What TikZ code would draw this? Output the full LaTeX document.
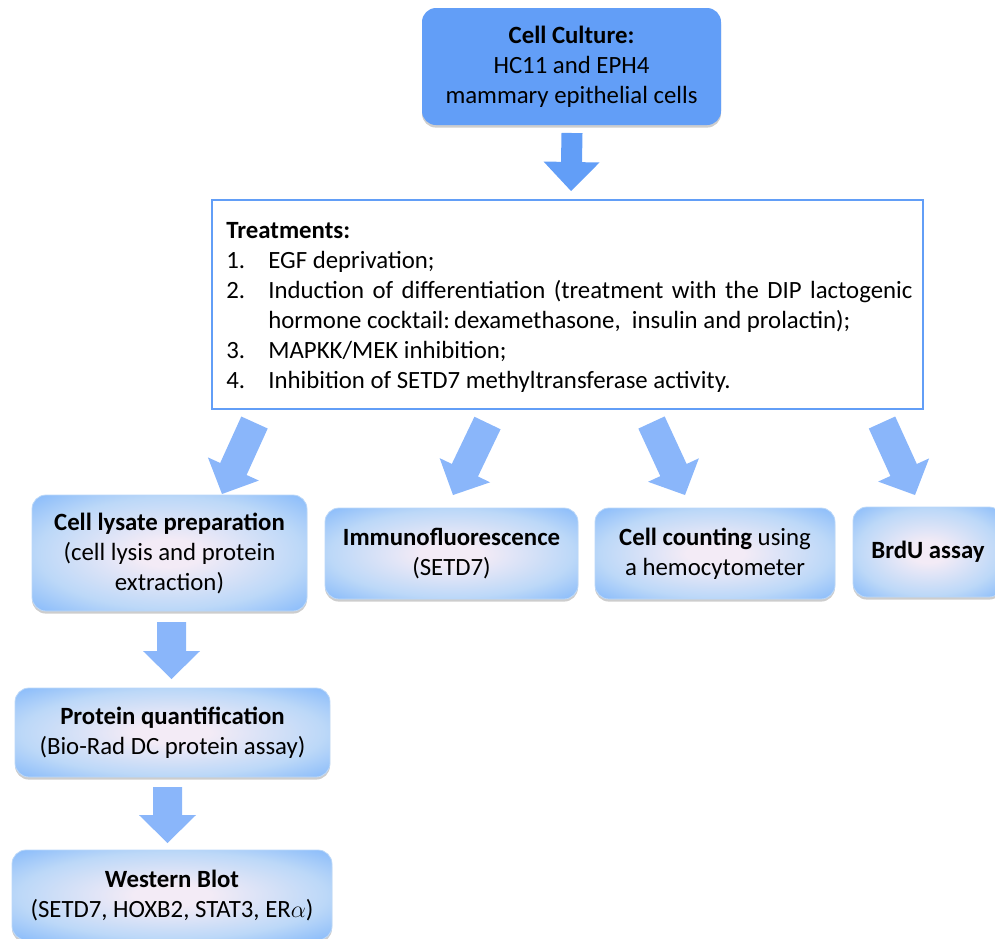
\documentclass[tikz,border=0pt]{standalone}
\usepackage{fontspec}
\setmainfont{Carlito}
\usetikzlibrary{calc,shadows}
\definecolor{cbox}{RGB}{98,158,247}
\definecolor{carrow}{RGB}{138,182,250}
\definecolor{cpale}{RGB}{243,235,246}
\definecolor{cmid}{RGB}{188,216,248}
\definecolor{cedge}{RGB}{142,190,250}
\pgfdeclareradialshading{boxshade}{\pgfpoint{0bp}{0bp}}{color(0bp)=(cpale); color(6bp)=(cpale); color(24bp)=(cmid); color(34bp)=(cedge); color(50bp)=(cedge)}
\newcommand\blockarrow[6]{%
  \coordinate (ba-h) at ($(#2)!#5!(#1)$);
  \fill[#6] ($(#1)!#3!90:(#2)$) -- ($(ba-h)!#3!90:(#2)$) -- ($(ba-h)!#4!90:(#2)$) -- (#2)
    -- ($(ba-h)!#4!-90:(#2)$) -- ($(ba-h)!#3!-90:(#2)$) -- ($(#1)!#3!-90:(#2)$) -- cycle;}
\tikzset{
  gbox/.style={rounded corners=7pt, shading=boxshade, draw=cmid, line width=0.4pt,
    align=center, inner sep=0pt, font=\fontsize{12.4}{15}\selectfont,
    drop shadow={shadow xshift=0pt, shadow yshift=-1.3pt, opacity=0.28, fill=black!70}},
  topbox/.style={rounded corners=7pt, fill=cbox, align=center, inner sep=0pt,
    font=\fontsize{12.4}{15}\selectfont,
    drop shadow={shadow xshift=0pt, shadow yshift=-1.3pt, opacity=0.28, fill=black!70}},
  treatbox/.style={draw=cbox, line width=1pt, fill=white, inner sep=0pt},
}
\begin{document}
\begin{tikzpicture}[x=0.5pt,y=-0.5pt]
\useasboundingbox (0,0) rectangle (995,938);
\clip (0,0) rectangle (995,938);

% boxes
\node[topbox, minimum width=149.5pt, minimum height=58.5pt] (culture) at (571.5,66.5)
  {\textbf{Cell Culture:}\\HC11 and EPH4\\mammary epithelial cells};

\node[treatbox, minimum width=355.5pt, minimum height=104.5pt] (treat) at (567.5,304.5) {};
\node[anchor=base west, inner sep=0pt, font=\fontsize{12.4}{15}\selectfont] (treattext) at (226,238)
  {\begin{tabular}[t]{@{}p{21pt}@{}p{322pt}@{}}
   \multicolumn{2}{@{}l}{\textbf{Treatments:}}\\
   1.& EGF deprivation;\\
   2.& \makebox[322pt][s]{Induction of differentiation (treatment with the DIP lactogenic}\\
     & hormone cocktail:\,dexamethasone,\ \ insulin and prolactin);\\
   3.& MAPKK/MEK inhibition;\\
   4.& Inhibition of SETD7 methyltransferase activity.
   \end{tabular}};

\node[gbox, minimum width=137.5pt, minimum height=58pt] (lysate) at (169.5,553)
  {\textbf{Cell lysate preparation}\\(cell lysis and protein\\extraction)};
\node[gbox, minimum width=126.5pt, minimum height=45.5pt] (immuno) at (451.5,553.5)
  {\textbf{Immunofluorescence}\\(SETD7)};
\node[gbox, minimum width=120pt, minimum height=45.5pt] (count) at (715,553.5)
  {\textbf{Cell counting} using\\a hemocytometer};
\node[gbox, minimum width=75pt, minimum height=45pt] (brdu) at (928,552)
  {\textbf{BrdU assay}};
\node[gbox, minimum width=157.5pt, minimum height=44.5pt] (protq) at (172.5,732.5)
  {\textbf{Protein quantification}\\(Bio-Rad DC protein assay)};
\node[gbox, minimum width=160pt, minimum height=45pt] (western) at (172,895)
  {\textbf{Western Blot}\\(SETD7, HOXB2, STAT3, ER$\alpha$)};

% arrow end points
\coordinate (a0s) at (572,133);   \coordinate (a0t) at (571,191);
\coordinate (a1s) at (254.5,422.5); \coordinate (a1t) at (222,494);
\coordinate (a2s) at (487.5,423); \coordinate (a2t) at (453,495);
\coordinate (a3s) at (651.5,422.5); \coordinate (a3t) at (685,495);
\coordinate (a4s) at (882,422.5); \coordinate (a4t) at (915,495);
\coordinate (a5s) at (171.5,622); \coordinate (a5t) at (171.5,679);
\coordinate (a6s) at (167.5,787); \coordinate (a6t) at (167.5,843);

\blockarrow{a0s}{a0t}{5.25pt}{14pt}{14.5pt}{cbox}
\blockarrow{a1s}{a1t}{7.25pt}{14pt}{13.75pt}{carrow}
\blockarrow{a2s}{a2t}{7.25pt}{14pt}{13.75pt}{carrow}
\blockarrow{a3s}{a3t}{7.25pt}{14pt}{13.75pt}{carrow}
\blockarrow{a4s}{a4t}{7.25pt}{14pt}{13.75pt}{carrow}
\blockarrow{a5s}{a5t}{7.25pt}{14.25pt}{14pt}{carrow}
\blockarrow{a6s}{a6t}{7.25pt}{14.25pt}{14pt}{carrow}
\end{tikzpicture}
\end{document}
